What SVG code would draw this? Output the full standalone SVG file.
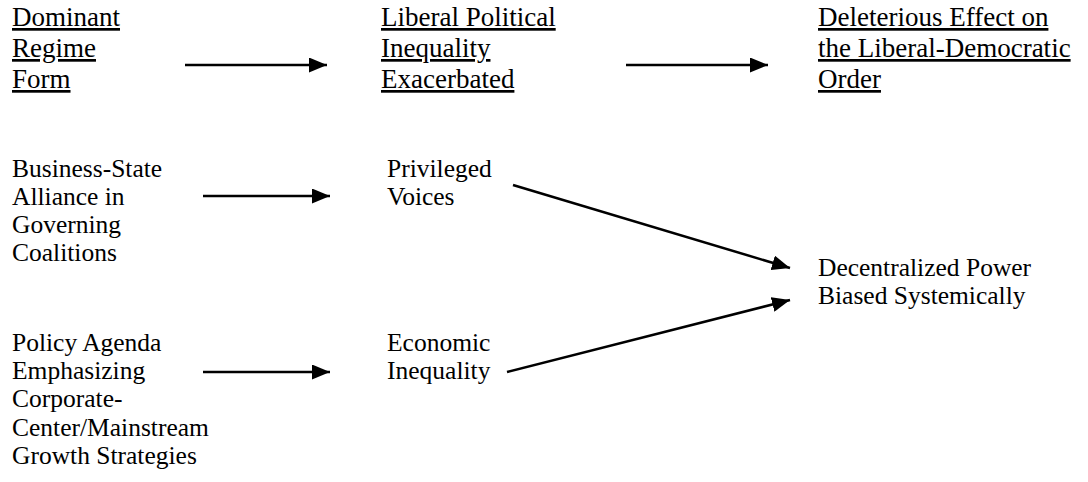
<svg xmlns="http://www.w3.org/2000/svg" width="1088" height="482" viewBox="0 0 1088 482">
<style>
text{font-family:"Liberation Serif","Times New Roman",serif;fill:#000;}
.h{font-size:27px;text-decoration:underline;}
.b{font-size:25.5px;}
.c line{stroke:#000;stroke-width:2.5;marker-end:url(#ah);}
</style>
<defs>
<marker id="ah" markerUnits="userSpaceOnUse" markerWidth="19" markerHeight="15" refX="18" refY="7.5" orient="auto">
<path d="M0,0 L18,7.5 L0,15 z" fill="#000"/>
</marker>
</defs>
<rect width="1088" height="482" fill="#fff"/>
<g id="n-dominant"><text class="h" x="12" y="26">Dominant</text><text class="h" x="12" y="57">Regime</text><text class="h" x="12" y="88">Form</text></g>
<g id="n-liberal"><text class="h" x="381" y="26">Liberal Political</text><text class="h" x="381" y="57">Inequality</text><text class="h" x="381" y="88">Exacerbated</text></g>
<g id="n-deleterious"><text class="h" x="818" y="26">Deleterious Effect on</text><text class="h" x="818" y="57">the Liberal-Democratic</text><text class="h" x="818" y="88">Order</text></g>
<g id="n-business"><text class="b" x="12" y="177">Business-State</text><text class="b" x="12" y="205">Alliance in</text><text class="b" x="12" y="233">Governing</text><text class="b" x="12" y="261">Coalitions</text></g>
<g id="n-privileged"><text class="b" x="387" y="177">Privileged</text><text class="b" x="387" y="205">Voices</text></g>
<g id="n-decentralized"><text class="b" x="818" y="276">Decentralized Power</text><text class="b" x="818" y="304">Biased Systemically</text></g>
<g id="n-policy"><text class="b" x="12" y="351">Policy Agenda</text><text class="b" x="12" y="379">Emphasizing</text><text class="b" x="12" y="407">Corporate-</text><text class="b" x="12" y="436">Center/Mainstream</text><text class="b" x="12" y="464">Growth Strategies</text></g>
<g id="n-economic"><text class="b" x="387" y="351">Economic</text><text class="b" x="387" y="379">Inequality</text></g>
<g class="c" id="connectors">
<line x1="185" y1="65" x2="327" y2="65"/>
<line x1="626" y1="65" x2="768" y2="65"/>
<line x1="203" y1="196" x2="330" y2="196"/>
<line x1="203" y1="372" x2="330" y2="372"/>
<line x1="513" y1="185" x2="790" y2="268"/>
<line x1="507" y1="372" x2="790" y2="300"/>
</g>
</svg>
